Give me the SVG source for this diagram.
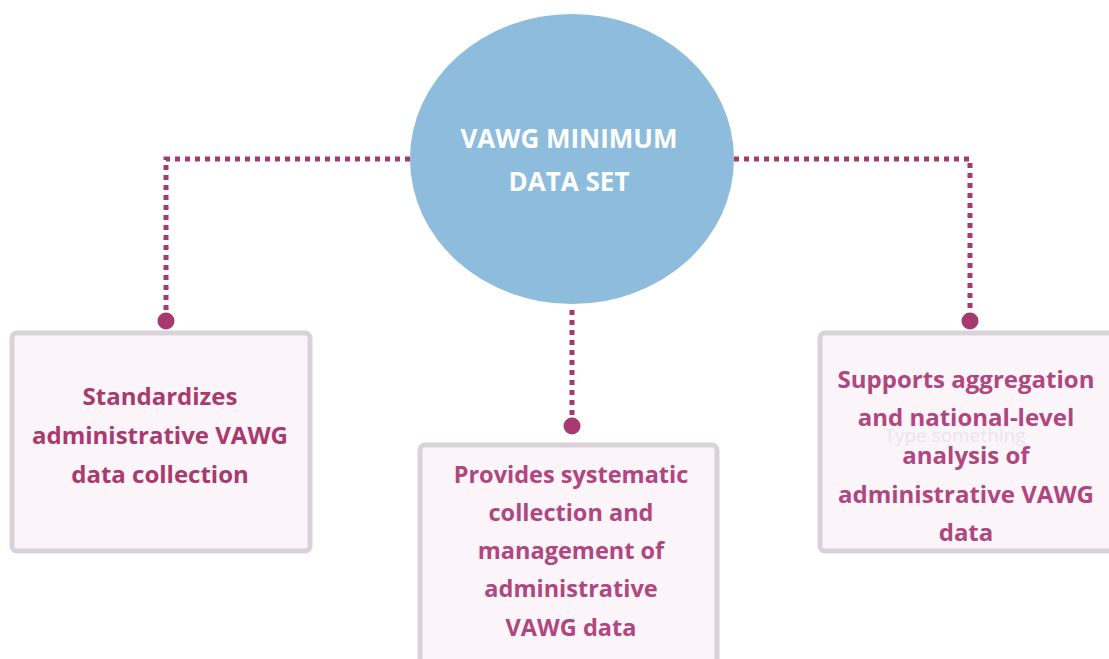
<svg xmlns="http://www.w3.org/2000/svg" width="1109" height="659" viewBox="0 0 1109 659">
<style>
.box{fill:#fbf4f8;stroke:#d9d2da;stroke-width:5}
.conn{fill:none;stroke:#a63a70;stroke-width:5;stroke-dasharray:5 5}
.dot{fill:#a63a70}
.t{font-family:"Open Sans",Lato,sans-serif;font-weight:bold;font-size:24px;fill:#b0467f;text-anchor:middle}
.m{font-size:23.5px}
.tl{fill:#a83a6e}
.c{font-family:"Open Sans",Lato,sans-serif;font-weight:bold;font-size:26px;fill:#ffffff;text-anchor:middle}
.ph{font-family:"Open Sans",Lato,sans-serif;font-size:19px;fill:#ece6ea;text-anchor:middle}
</style>
<rect width="1109" height="659" fill="#ffffff"/>
<g id="connectors">
<path class="conn" d="M410 159 H166 V316"/>
<path class="conn" d="M734 159 H970 V316"/>
<path class="conn" d="M572 310 V420"/>
<circle class="dot" cx="166" cy="321" r="8.5"/>
<circle class="dot" cx="970" cy="321" r="8.5"/>
<circle class="dot" cx="572" cy="426" r="8.5"/>
</g>
<g id="center">
<ellipse cx="572" cy="159" rx="162" ry="145" fill="#8dbcdd"/>
<text class="c" x="569" y="148">VAWG MINIMUM</text>
<text class="c" x="569" y="191">DATA SET</text>
</g>
<g id="left">
<rect class="box" x="12" y="333" width="298" height="218" rx="5"/>
<text class="t tl" x="160" y="405">Standardizes</text>
<text class="t tl" x="160" y="444">administrative VAWG</text>
<text class="t tl" x="160" y="483">data collection</text>
</g>
<g id="middle">
<rect class="box" x="420" y="445" width="297" height="230" rx="5"/>
<text class="t m" x="571" y="483">Provides systematic</text>
<text class="t m" x="571" y="521">collection and</text>
<text class="t m" x="571" y="559">management of</text>
<text class="t m" x="571" y="597">administrative</text>
<text class="t m" x="571" y="636">VAWG data</text>
</g>
<g id="right">
<rect class="box" x="820" y="333" width="300" height="218" rx="5"/>
<text class="ph" x="955" y="442">Type something</text>
<text class="t" x="966" y="388">Supports aggregation</text>
<text class="t" x="966" y="426">and national-level</text>
<text class="t" x="966" y="464">analysis of</text>
<text class="t" x="966" y="503">administrative VAWG</text>
<text class="t" x="966" y="541">data</text>
</g>
</svg>
